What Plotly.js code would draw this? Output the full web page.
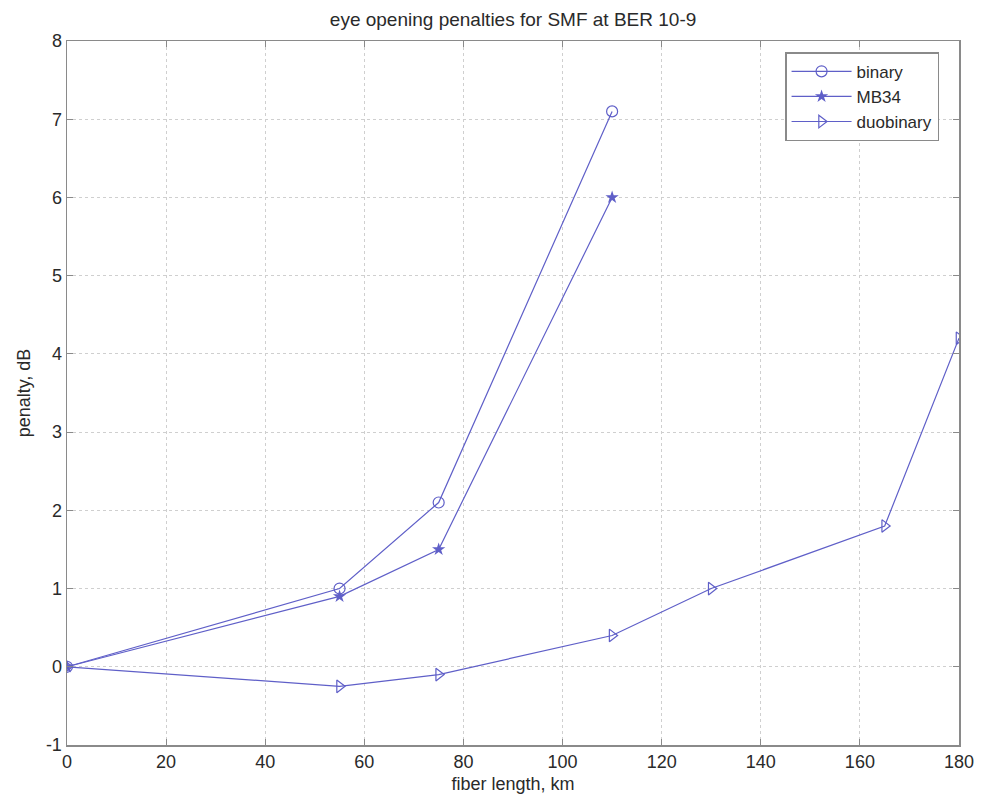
<!DOCTYPE html>
<html>
<head>
<meta charset="utf-8">
<script src="https://cdn.plot.ly/plotly-3.0.1.min.js"></script>
<style>html,body{margin:0;padding:0;background:#fff;}#chart{width:981px;height:802px;}</style>
</head>
<body>
<div id="chart"></div>
<script>
const binaryX = [0, 55, 75, 110];
const binaryY = [0, 1.0, 2.1, 7.1];
const mb34X = [0, 55, 75, 110];
const mb34Y = [0, 0.9, 1.5, 6.0];
const duoX = [0, 55, 75, 110, 130, 165, 180];
const duoY = [0, -0.25, -0.1, 0.4, 1.0, 1.8, 4.2];
const xTicks = [0, 20, 40, 60, 80, 100, 120, 140, 160, 180];
const yTicks = [-1, 0, 1, 2, 3, 4, 5, 6, 7, 8];

const lineColor = 'rgb(95,95,200)';
const font = {family: 'Liberation Sans, Arial, sans-serif', size: 18, color: '#2a2a2a'};

const traces = [
  {x: binaryX, y: binaryY, name: 'binary', mode: 'lines+markers', type: 'scatter',
   line: {color: lineColor, width: 1.2},
   marker: {symbol: 'circle-open', size: 11, color: lineColor, line: {width: 1.2, color: lineColor}}},
  {x: mb34X, y: mb34Y, name: 'MB34', mode: 'lines+markers', type: 'scatter',
   line: {color: lineColor, width: 1.2},
   marker: {symbol: 'star', size: 10, color: lineColor, line: {width: 0}}},
  {x: duoX, y: duoY, name: 'duobinary', mode: 'lines+markers', type: 'scatter',
   line: {color: lineColor, width: 1.2},
   marker: {symbol: 'triangle-right-open', size: 11, color: lineColor, line: {width: 1.2, color: lineColor}}}
];

const axisCommon = {
  showline: true, linecolor: '#8a8a8a', linewidth: 1.5, mirror: 'ticks',
  ticks: 'inside', ticklen: 6, tickcolor: '#8a8a8a',
  showgrid: true, gridcolor: '#cfcfcf', griddash: 'dot', gridwidth: 1,
  zeroline: false, tickfont: font
};

const layout = {
  width: 981, height: 802,
  paper_bgcolor: '#fff', plot_bgcolor: '#fff',
  margin: {l: 67, r: 22, t: 41, b: 57},
  font: font,
  title: {text: 'eye opening penalties for SMF at BER 10-9', x: 0.523, xanchor: 'center', y: 0.976, yanchor: 'middle', font: {family: font.family, size: 19, color: '#2a2a2a'}},
  xaxis: Object.assign({}, axisCommon, {
    range: [0, 180], tickvals: xTicks, ticktext: xTicks.map(String),
    title: {text: 'fiber length, km', font: font, standoff: 6}
  }),
  yaxis: Object.assign({}, axisCommon, {
    range: [-1, 8], tickvals: yTicks, ticktext: yTicks.map(String),
    title: {text: 'penalty, dB', font: font, standoff: 10}
  }),
  showlegend: true,
  legend: {x: 0.805, xanchor: 'left', y: 0.984, yanchor: 'top',
    bgcolor: '#fff', bordercolor: '#8a8a8a', borderwidth: 1.5,
    font: {family: font.family, size: 17, color: '#2a2a2a'}, tracegroupgap: 0, itemwidth: 60}
};

Plotly.newPlot('chart', traces, layout, {displayModeBar: false, staticPlot: true});
</script>
</body>
</html>
